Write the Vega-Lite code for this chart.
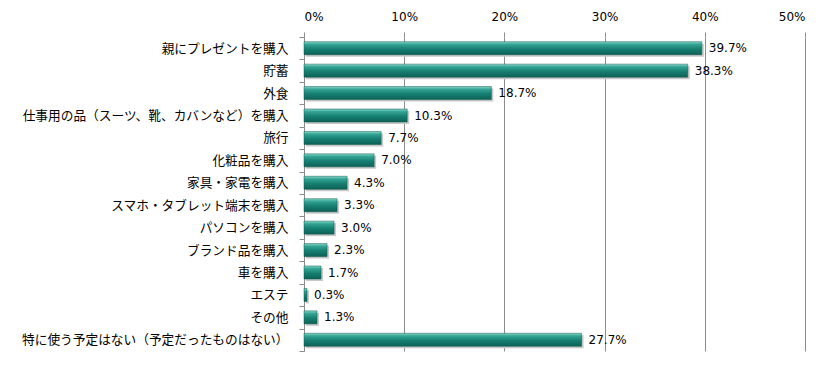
{
  "$schema": "https://vega.github.io/schema/vega-lite/v6.json",
  "autosize": {"type": "none"},
  "width": 501,
  "height": 314,
  "padding": {"left": 304, "top": 37, "right": 30, "bottom": 14},
  "background": "white",
  "config": {"view": {"stroke": null}},
  "data": {"values": [
    {"item": "親にプレゼントを購入", "pct": 39.7},
    {"item": "貯蓄", "pct": 38.3},
    {"item": "外食", "pct": 18.7},
    {"item": "仕事用の品（スーツ、靴、カバンなど）を購入", "pct": 10.3},
    {"item": "旅行", "pct": 7.7},
    {"item": "化粧品を購入", "pct": 7.0},
    {"item": "家具・家電を購入", "pct": 4.3},
    {"item": "スマホ・タブレット端末を購入", "pct": 3.3},
    {"item": "パソコンを購入", "pct": 3.0},
    {"item": "ブランド品を購入", "pct": 2.3},
    {"item": "車を購入", "pct": 1.7},
    {"item": "エステ", "pct": 0.3},
    {"item": "その他", "pct": 1.3},
    {"item": "特に使う予定はない（予定だったものはない）", "pct": 27.7}
  ]},
  "encoding": {
    "y": {
      "field": "item", "type": "nominal", "sort": null, "title": null,
      "scale": {"paddingInner": 0, "paddingOuter": 0},
      "axis": {
        "tickBand": "extent", "ticks": true, "tickSize": 5, "tickColor": "#8c8c8c",
        "domainColor": "#8c8c8c", "labelPadding": 11,
        "labelFont": "Noto Sans CJK JP", "labelFontSize": 12.7, "labelColor": "#000",
        "labelLimit": 320
      }
    },
    "x": {
      "field": "pct", "type": "quantitative", "title": null,
      "scale": {"domain": [0, 50]},
      "axis": {
        "orient": "top", "values": [0, 10, 20, 30, 40, 50],
        "labelExpr": "datum.value + '%'", "domain": false,
        "grid": true, "gridColor": "#8c8c8c", "tickColor": "#8c8c8c", "tickSize": 5,
        "labelFont": "DejaVu Sans", "labelFontSize": 12, "labelColor": "#000", "labelPadding": 9
      }
    }
  },
  "layer": [
    {
      "mark": {"type": "bar", "size": 13, "color": "#c8c8c8", "xOffset": 2, "yOffset": 2}
    },
    {
      "mark": {
        "type": "bar", "size": 13,
        "color": {
          "gradient": "linear", "x1": 0, "y1": 0, "x2": 0, "y2": 1,
          "stops": [
            {"offset": 0, "color": "#8ad8ca"},
            {"offset": 0.2, "color": "#35a595"},
            {"offset": 0.55, "color": "#168072"},
            {"offset": 1, "color": "#0d6156"}
          ]
        },
        "stroke": "#0b5a50", "strokeWidth": 0.5
      }
    },
    {
      "mark": {"type": "text", "align": "left", "dx": 7, "font": "DejaVu Sans", "fontSize": 12, "color": "#000"},
      "encoding": {"text": {"field": "label", "type": "nominal"}},
      "transform": [{"calculate": "format(datum.pct, '.1f') + '%'", "as": "label"}]
    }
  ]
}
